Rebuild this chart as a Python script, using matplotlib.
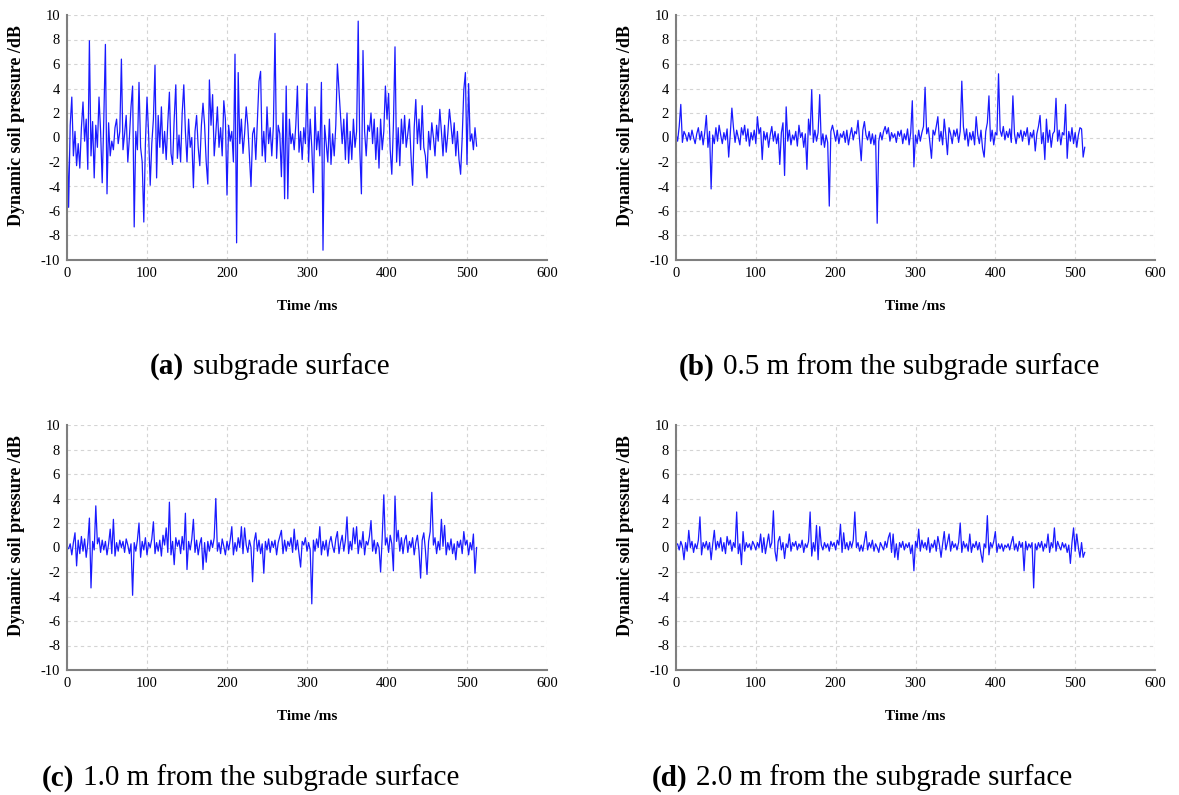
import numpy as np
import matplotlib
matplotlib.use("Agg")
import matplotlib.pyplot as plt

plt.rcParams['font.family'] = ['Liberation Serif', 'DejaVu Serif']
plt.rcParams['axes.unicode_minus'] = False

# sampling step of the records (ms)
step_ms = 2

# (a) subgrade surface
depth_0m = [
    0.3, -5.7, 1.0, 3.3, -1.5, 0.5, -2.3, -0.5, -2.5, 0.8,
    2.9, -0.3, 1.5, -2.6, 7.9, -1.5, 1.3, -3.3, 1.0, -0.8,
    3.3, 0.5, -3.7, 1.5, 7.6, -4.6, 1.2, -1.5, -0.3, -1.0,
    0.8, 1.5, -0.5, 0.5, 6.4, -1.0, 0.3, 1.8, -2.0, 0.0,
    2.5, 4.2, -7.3, 0.5, -1.0, 4.5, -0.8, -2.0, -6.9, -0.5,
    3.3, 0.3, -3.9, -0.5, 1.5, 5.9, -3.3, 1.8, -0.8, 2.5,
    -1.3, 0.5, -1.8, 1.2, 3.7, -1.3, -2.2, 1.5, 4.3, -1.7,
    0.2, -2.0, 2.0, 4.3, 0.5, -2.0, 1.5, -0.8, 0.0, -4.1,
    0.5, 1.8, -0.8, -2.3, 1.0, 2.8, 1.0, -2.0, -3.8, 4.7,
    1.0, 3.5, -1.5, 0.3, 2.5, -0.8, 0.8, -1.5, 3.0, 1.5,
    -4.7, 1.0, -0.3, 0.5, -2.0, 6.8, -8.6, 5.3, -0.5, 1.5,
    -1.3, 0.3, 2.5, 1.0, -1.5, -4.0, 0.3, 0.8, -1.8, 1.5,
    4.6, 5.4, -1.5, 0.5, -2.0, 2.5, -0.5, 0.8, -1.5, 1.0,
    8.5, -1.7, 1.0, 0.3, -3.2, 2.0, -5.0, 4.2, -5.0, 1.5,
    -0.5, 0.3, -1.0, 1.0, 4.2, -1.2, 0.5, -1.8, 0.8, -0.5,
    4.4, -2.0, 1.5, -0.8, -4.5, 2.5, -1.0, 0.5, -1.5, 4.5,
    -9.2, 1.0, -0.5, -2.0, 1.5, -2.2, 0.3, -1.5, 1.0, 6.0,
    3.8, 1.5, -0.5, 1.5, -1.8, 2.0, -2.1, 0.5, -1.8, 1.5,
    -0.8, 0.5, 9.5, -1.0, -4.6, 7.1, 0.5, -1.5, 1.0, 0.5,
    2.0, -0.5, 1.5, -1.8, 0.8, -2.5, 1.5, -1.0, 0.5, 4.2,
    1.5, 3.6, -1.0, -3.0, 1.0, 7.4, -2.0, 0.8, -2.3, 1.5,
    -0.5, 1.8, -0.8, 0.3, 1.5, -1.5, -3.9, 0.8, 3.1, -0.5,
    1.5, -1.0, 2.6, -0.8, -1.5, -3.3, 0.5, -1.0, 1.2, 0.0,
    -1.5, 1.0, -0.3, 2.3, 0.5, -1.5, 1.0, -1.2, 0.3, 2.3,
    1.0, -0.5, 1.2, -1.5, 0.5, -1.8, -3.0, 0.0, 3.9, 5.3,
    -2.2, 4.4, -0.3, 0.3, -1.0, 0.8, -0.7,
]

# (b) 0.5 m below the surface
depth_05m = [
    0.3, -0.3, 0.9, 2.7, -0.4, 0.5, 0.2, -0.3, 0.4, -0.2,
    0.6, 0.0, -0.5, 0.3, 0.8, -0.2, 0.5, -0.6, 0.4, 1.8,
    -0.8, 0.5, -4.2, 0.2, -0.5, 0.8, -0.3, 1.0, 0.2, -0.5,
    0.4, -0.2, 0.7, -1.6, 0.3, 2.4, 0.8, -0.4, 0.6, 0.0,
    -0.6, 0.8, 0.2, 1.0, -0.3, 0.7, -0.7, 0.4, -0.2, 0.6,
    -0.5, 1.7, 0.3, 0.8, -1.8, 0.5, -0.2, 0.4, -0.8, 0.2,
    0.9, -0.3, 0.5, -0.5, 0.3, -2.2, 0.4, 1.2, -3.1, 2.5,
    -0.3, 0.6, -0.6, 0.2, -0.2, 0.5, -0.7, 1.0, 0.0, 0.4,
    -0.8, 0.3, -2.6, 1.5, 0.2, 3.9, -0.4, 0.6, -0.3, 0.4,
    3.5, -0.6, 0.3, -0.8, 0.2, -0.4, -5.6, 0.5, 1.0, 0.4,
    -0.3, 0.6, -0.5, 0.3, 0.0, 0.5, -0.4, 0.6, -0.6, 0.2,
    0.8, -0.2, 0.5, 0.3, 1.4, -0.2, -1.9, 0.6, 1.3, 0.2,
    -0.2, 0.5, -0.5, 0.3, -0.6, 0.2, -7.0, -0.3, 0.4, -0.2,
    0.5, 0.9, 0.3, 0.8, -0.3, 0.4, 0.0, 0.3, -0.4, 0.5,
    0.1, 0.6, -0.5, 0.3, -0.2, 0.7, -0.6, 0.4, 3.0, -2.4,
    0.2, -0.5, 0.6, -0.3, 0.4, 0.9, 4.1, 0.3, 0.8, -0.4,
    -1.7, 0.6, 0.2, 0.9, 1.7, -0.3, 0.5, -0.6, 1.5, 0.2,
    -1.4, 0.8, 0.3, -0.5, 0.6, 0.1, 0.7, -0.4, 0.5, 4.6,
    0.9, -0.2, 0.7, -0.7, 0.4, -0.2, 0.5, -0.6, 1.7, 0.2,
    -0.5, 0.6, -0.9, -1.6, 0.5, 1.2, 3.4, -0.3, 0.6, -0.6,
    0.4, 0.2, 5.2, 0.6, 0.1, 0.9, -0.2, 0.5, 0.0, 0.7,
    -0.4, 3.4, 0.3, -0.5, 0.4, 0.0, 0.6, -0.3, 0.5, 0.1,
    0.8, -0.6, 0.4, 0.0, 0.6, -1.1, 0.3, 0.9, 1.8, -0.5,
    0.4, -1.8, 1.5, -0.4, 0.6, -0.8, 0.3, 0.5, 3.2, -0.3,
    0.6, -0.6, 0.4, 0.2, 2.7, -1.7, 0.5, -0.3, 0.8, -0.5,
    0.4, -0.8, 0.2, 0.8, 0.7, -1.6, -0.8,
]

# (c) 1.0 m below the surface
depth_10m = [
    0.0, -0.1, 0.3, -0.6, 0.4, 1.2, -1.5, 0.6, -0.5, 0.9,
    -0.3, 0.7, -0.8, 0.4, 2.4, -3.3, 0.5, -0.2, 3.4, 0.3,
    0.8, -0.4, 0.6, -0.2, 0.5, -0.6, 0.3, 1.5, -0.5, 2.3,
    -0.7, 0.4, -0.3, 0.6, 0.0, 0.5, -0.4, 0.7, 0.2, -0.5,
    0.3, -3.9, 0.4, -0.3, 0.6, 2.0, -0.8, 0.5, -0.2, 0.8,
    -0.6, 0.4, 0.0, 0.7, 2.1, -0.5, 0.4, -0.3, 0.6, -0.7,
    1.0, 0.2, 1.6, -0.4, 3.7, -0.6, 0.5, -1.4, 0.8, 0.1,
    0.6, -0.5, 0.9, -0.2, 2.8, -1.8, 0.5, -0.2, 0.7, 2.3,
    -0.4, 0.6, -0.6, 0.3, 0.8, -1.8, 0.4, -1.2, 0.5, -0.3,
    0.6, 0.0, 0.8, 4.0, -0.3, 0.4, -0.5, 0.7, 0.1, -0.6,
    0.5, -0.2, 0.6, 1.7, -0.6, 0.4, -0.3, 0.8, 0.0, 1.7,
    -0.5, 1.6, 0.2, -0.4, 0.6, 0.0, -2.8, 0.5, 1.2, -0.3,
    0.6, -0.5, 0.3, -2.1, 0.5, -0.2, 0.7, -0.4, 0.5, 0.0,
    0.6, -0.6, 0.4, 0.9, 1.4, -0.5, 0.6, -0.3, 0.5, 0.1,
    0.8, -0.4, 1.5, -0.2, 0.6, -0.5, -1.6, 0.5, 0.2, 0.8,
    -0.3, 0.4, -0.2, -4.6, 0.6, -0.3, 0.7, 0.0, 1.7, -0.6,
    0.5, -0.2, 0.6, -0.7, 0.4, 0.9, 0.1, -0.4, 0.7, 1.3,
    -0.5, 0.4, 1.0, -0.3, 0.6, 2.5, -0.5, 0.5, -0.2, 1.6,
    0.3, 1.7, -0.5, 0.6, 0.0, 1.3, -0.6, 0.5, 0.2, 0.9,
    2.2, -0.3, 0.6, -0.5, 0.4, 0.0, -2.0, 0.8, 4.3, 0.2,
    0.8, -0.4, 1.0, 0.3, -1.9, 4.2, 0.5, 1.4, -0.3, 0.8,
    -0.5, 0.6, 1.0, -0.4, 0.5, 0.0, 0.8, -0.6, 0.4, 1.0,
    -0.3, -2.5, 0.6, 1.2, -0.2, -2.2, 0.5, 1.3, 4.5, 0.2,
    0.8, -0.5, 0.5, -0.2, 2.3, 0.1, 1.8, -0.6, 0.4, -0.2,
    0.7, -0.5, 0.3, -1.0, 0.5, 0.0, 0.6, -0.5, 1.3, 0.2,
    0.6, -0.6, 0.4, -0.2, 1.1, -2.1, 0.0,
]

# (d) 2.0 m below the surface
depth_20m = [
    0.2, 0.3, -0.2, 0.5, 0.1, -1.0, 0.4, -0.3, 1.4, 0.0,
    0.5, -0.4, 0.3, -0.1, 0.6, 2.5, -0.6, 0.4, 0.0, 0.5,
    -0.2, 0.4, -1.0, 0.3, 1.4, -0.2, 0.5, 0.0, 0.8, -0.3,
    0.4, -0.5, 0.9, 0.2, 0.6, -0.3, 0.4, 0.0, 2.9, -0.5,
    0.3, -1.4, 1.3, -0.3, 0.4, 0.0, 0.3, -0.2, 0.5, 0.2,
    -0.2, 0.4, 0.0, 1.1, -0.4, 0.8, -0.5, 0.3, 1.1, 0.0,
    0.4, 3.0, -0.3, -1.1, 0.5, 0.9, -0.2, 0.4, -0.9, 0.3,
    0.0, 1.1, -0.3, 0.4, 0.1, 0.5, -0.2, 0.3, 0.0, 0.6,
    -0.4, 0.3, 0.0, 0.5, 2.9, -0.7, 0.4, -0.3, 1.8, -1.0,
    1.7, 0.2, -0.2, 0.4, 0.0, 0.3, -0.3, 0.5, 0.1, 0.4,
    -0.2, 0.6, 0.2, 1.9, -0.4, 1.2, -0.1, 0.4, -0.2, 0.5,
    0.0, 0.6, 2.9, 0.0, 0.4, -0.3, 0.2, -0.3, 0.5, 1.3,
    -0.2, 0.4, 0.0, 0.6, -0.3, 0.3, 0.0, -0.4, 0.4, 0.1,
    -0.2, 0.5, 0.0, 0.8, 1.2, -0.4, 1.1, -0.8, 0.3, -1.0,
    0.4, 0.0, 0.5, -0.2, 0.3, 0.0, 0.4, -0.5, 0.2, -1.9,
    0.5, 0.0, 1.5, -0.3, 0.6, 0.0, 0.4, -0.2, 0.8, -0.4,
    0.3, 0.0, 0.6, -0.3, 0.9, 0.2, -0.8, 0.3, 1.3, -0.2,
    0.4, 1.1, -0.3, 0.5, 0.0, 0.3, -0.2, 0.4, 2.0, -0.4,
    0.5, 0.0, 0.3, -0.3, 1.1, -0.4, 0.3, 0.0, 0.5, -0.2,
    0.4, -0.5, -1.2, 0.3, 0.0, 2.6, -0.6, 0.4, 0.0, 0.5,
    1.3, -0.4, 0.3, -0.1, 0.3, -0.3, 0.2, 0.0, 0.3, -0.2,
    0.4, 0.9, -0.2, 0.3, -0.3, 0.5, 0.0, 0.4, -1.9, 0.5,
    -0.2, 0.3, 0.0, 0.4, -3.3, 0.3, -0.2, 0.4, 0.0, 0.5,
    -0.3, 0.3, 0.0, 1.1, -0.4, 0.4, 0.0, 1.6, -0.3, 0.5,
    0.1, -0.2, 0.4, 0.0, 0.3, -0.4, 0.2, -1.3, 0.4, 1.6,
    -0.3, 1.1, 0.0, -0.8, 0.4, -0.8, -0.4,
]

series = [depth_0m, depth_05m, depth_10m, depth_20m]
tags = ["(a)", "(b)", "(c)", "(d)"]
captions = ["subgrade surface",
            "0.5 m from the subgrade surface",
            "1.0 m from the subgrade surface",
            "2.0 m from the subgrade surface"]
x_ticks = [0, 100, 200, 300, 400, 500, 600]
y_ticks = [-10, -8, -6, -4, -2, 0, 2, 4, 6, 8, 10]

W, H = 1179, 795
fig = plt.figure(figsize=(W / 100, H / 100), dpi=100)

# plot boxes in pixels: left, top, right, bottom
boxes = [(67, 15, 547, 260), (676, 15, 1155, 260),
         (67, 425, 547, 670), (676, 425, 1155, 670)]
# caption anchor (pixel x where tag ends, pixel y of text centre)
cap_pos = [(184, 367), (714, 367), (74, 778), (687, 778)]

for vals, box, tag, cap, cp in zip(series, boxes, tags, captions, cap_pos):
    l, t, r, b = box
    ax = fig.add_axes([l / W, 1 - b / H, (r - l) / W, (b - t) / H])
    x = np.arange(len(vals)) * step_ms
    ax.plot(x, vals, color='#1a1aff', lw=0.9)
    ax.set_xlim(0, 600)
    ax.set_ylim(-10, 10)
    ax.set_xticks(x_ticks)
    ax.set_yticks(y_ticks)
    ax.grid(True, color='#d4d4d4', ls=(0, (3, 3)), lw=0.8)
    ax.set_axisbelow(True)
    for s in ['top', 'right']:
        ax.spines[s].set_visible(False)
    for s in ['left', 'bottom']:
        ax.spines[s].set_color('#7f7f7f')
        ax.spines[s].set_linewidth(1.5)
    ax.tick_params(length=0, labelsize=10.5, pad=5)
    ax.set_ylabel('Dynamic soil pressure /dB', fontsize=13, fontweight='bold')
    ax.set_xlabel('Time /ms', fontsize=11, fontweight='bold')
    ax.yaxis.set_label_coords(-0.088, 0.55)
    ax.xaxis.set_label_coords(0.5, -0.165)

    cx, cy = cp
    fig.text(cx / W, 1 - cy / H, tag, ha='right', va='center',
             fontsize=21, fontweight='bold')
    fig.text((cx + 9) / W, 1 - cy / H, cap, ha='left', va='center',
             fontsize=21)

fig.savefig('out.png', dpi=100)
